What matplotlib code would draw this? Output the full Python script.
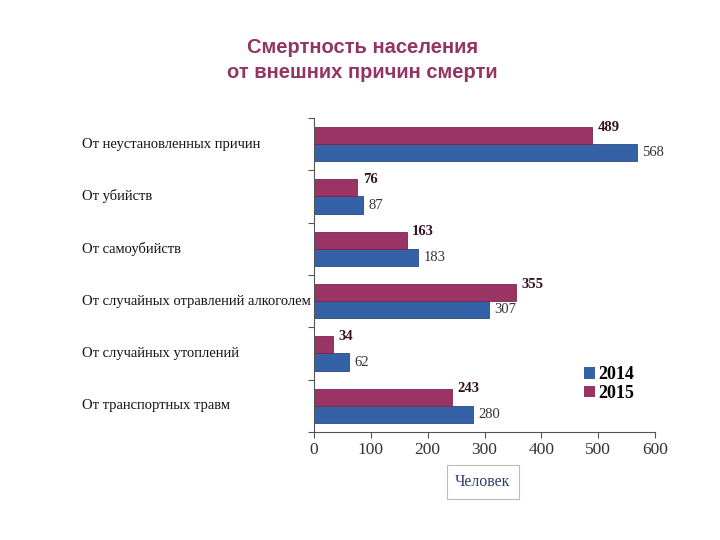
import numpy as np
import matplotlib.pyplot as plt
from matplotlib.patches import Patch
from matplotlib.transforms import blended_transform_factory

# == DATOS ==
categories = [
    "От неустановленных причин",
    "От убийств",
    "От самоубийств",
    "От случайных отравлений алкоголем",
    "От случайных утоплений",
    "От транспортных травм",
]
vals_2014 = [568, 87, 183, 307, 62, 280]
vals_2015 = [489, 76, 163, 355, 34, 243]
years = ["2014", "2015"]
x_ticks = [0, 100, 200, 300, 400, 500, 600]

c2014 = "#3562a6"
c2015 = "#9a3465"
serif = "Liberation Serif"

fig = plt.figure(figsize=(7.2, 5.4), dpi=100)
ax = fig.add_axes([0.436, 0.2, 0.474, 0.5815])

y = np.arange(len(categories))
h = 0.33
ax.barh(y + h / 2, vals_2014, height=h, color=c2014, edgecolor="#2a4a80", linewidth=0.6)
ax.barh(y - h / 2, vals_2015, height=h, color=c2015, edgecolor="#7a2850", linewidth=0.6)

ax.set_ylim(len(categories) - 0.5, -0.5)
ax.set_xlim(0, 600)

# Etiquetas de valores
for yi, v in zip(y, vals_2014):
    ax.annotate(str(v), (v, yi + h / 2), xytext=(4, 0), textcoords="offset points",
                va="center", ha="left", fontsize=10.5, family=serif, color="#333333")
for yi, v in zip(y, vals_2015):
    ax.annotate(str(v), (v, yi - h / 2), xytext=(4, 6), textcoords="offset points",
                va="center", ha="left", fontsize=10.5, family=serif, color="#331122",
                fontweight="bold")

# Ejes
for s in ["top", "right"]:
    ax.spines[s].set_visible(False)
for s in ["left", "bottom"]:
    ax.spines[s].set_color("#555555")
    ax.spines[s].set_linewidth(0.8)
ax.set_xticks(x_ticks)
ax.set_xticklabels([str(t) for t in x_ticks], family=serif, fontsize=12.5, color="#333333")
ax.tick_params(axis="x", direction="out", length=4, color="#555555", pad=3)
ax.set_yticks(np.arange(-0.5, len(categories), 1.0))
ax.set_yticklabels([])
ax.tick_params(axis="y", direction="out", length=4, color="#555555")

# Etiquetas de categorias alineadas a la izquierda
trans = blended_transform_factory(fig.transFigure, ax.transData)
for yi, cat in zip(y, categories):
    ax.text(82 / 720, yi, cat, transform=trans, ha="left", va="center",
            fontsize=10.5, family=serif, color="#111111")

# Leyenda
handles = [Patch(facecolor=c2014), Patch(facecolor=c2015)]
leg = fig.legend(handles, years, loc="upper left", bbox_to_anchor=(568 / 720, 1 - 350 / 540),
                 frameon=False, handlelength=0.6, handleheight=0.6, handletextpad=0.2,
                 labelspacing=0.1, prop={"family": serif, "size": 13, "weight": "bold"})

# Titulo
fig.text(0.503, 0.888, "Смертность населения\nот внешних причин смерти", ha="center", va="center",
         fontsize=14.5, fontweight="bold", color="#943463", family="Liberation Sans",
         linespacing=1.4)

# Caja "Человек"
fig.text(483 / 720, 1 - 482 / 540, "Человек", ha="center", va="center", fontsize=11.5,
         family=serif, color="#2f3f6f",
         bbox=dict(boxstyle="square,pad=0.55", facecolor="white", edgecolor="#bbbbbb", linewidth=0.8))

fig.savefig("out.png", dpi=100)
